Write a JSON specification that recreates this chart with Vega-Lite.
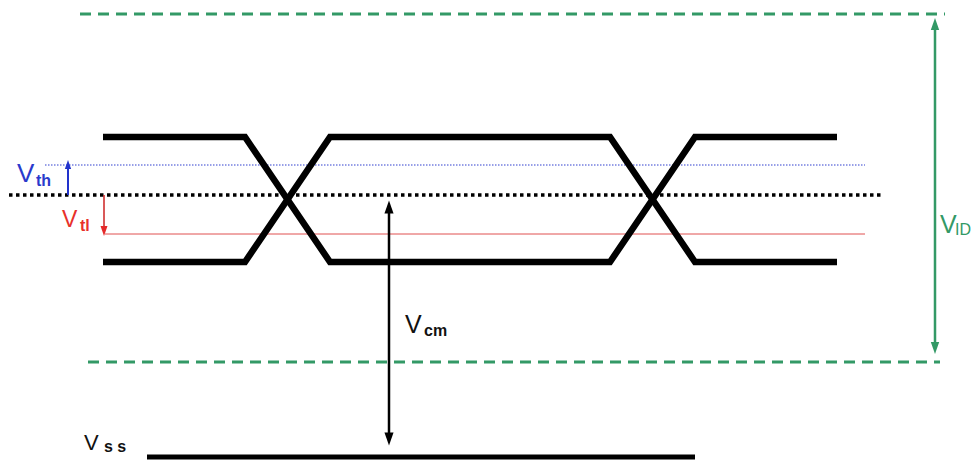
{
  "$schema": "https://vega.github.io/schema/vega-lite/v6.json",
  "width": 980,
  "height": 461,
  "autosize": {"type": "fit", "contains": "padding"},
  "padding": 0,
  "background": "white",
  "config": {"view": {"stroke": null}, "axis": null},
  "datasets": {
    "rules": [
      {"kind": "greendash", "x": 80, "x2": 945, "y": 14, "y2": 14},
      {"kind": "greendash", "x": 88, "x2": 940, "y": 362, "y2": 362},
      {"kind": "green", "x": 935, "x2": 935, "y": 26, "y2": 346},
      {"kind": "bluedot", "x": 45, "x2": 865, "y": 165, "y2": 165},
      {"kind": "red", "x": 105, "x2": 865, "y": 234, "y2": 234},
      {"kind": "blackdot", "x": 9, "x2": 884, "y": 195, "y2": 195},
      {"kind": "vcm", "x": 389, "x2": 389, "y": 208, "y2": 437},
      {"kind": "bluearrow", "x": 68, "x2": 68, "y": 195, "y2": 167},
      {"kind": "redarrow", "x": 104, "x2": 104, "y": 195, "y2": 228},
      {"kind": "vss", "x": 147, "x2": 695, "y": 457, "y2": 457}
    ],
    "eye": [
      {"path": "A", "i": 0, "x": 103, "y": 137},
      {"path": "A", "i": 1, "x": 245, "y": 137},
      {"path": "A", "i": 2, "x": 330, "y": 262},
      {"path": "A", "i": 3, "x": 610, "y": 262},
      {"path": "A", "i": 4, "x": 695, "y": 137},
      {"path": "A", "i": 5, "x": 837, "y": 137},
      {"path": "B", "i": 0, "x": 103, "y": 262},
      {"path": "B", "i": 1, "x": 245, "y": 262},
      {"path": "B", "i": 2, "x": 330, "y": 137},
      {"path": "B", "i": 3, "x": 610, "y": 137},
      {"path": "B", "i": 4, "x": 695, "y": 262},
      {"path": "B", "i": 5, "x": 837, "y": 262}
    ],
    "heads": [
      {"group": "green", "dir": "up", "x": 935, "y": 24},
      {"group": "green", "dir": "down", "x": 935, "y": 348},
      {"group": "black", "dir": "up", "x": 389, "y": 207},
      {"group": "black", "dir": "down", "x": 389, "y": 439},
      {"group": "blue", "dir": "up", "x": 68, "y": 164.5},
      {"group": "red", "dir": "down", "x": 104, "y": 231}
    ],
    "labels": [
      {"key": "th-main", "weight": "normal", "text": "V", "group": "blue", "x": 17, "y": 182},
      {"key": "th-sub", "weight": "bold", "text": "th", "group": "blue", "x": 36, "y": 186},
      {"key": "tl-main", "weight": "normal", "text": "V", "group": "red", "x": 62, "y": 227},
      {"key": "tl-sub", "weight": "bold", "text": "tl", "group": "red", "x": 80, "y": 231},
      {"key": "cm-main", "weight": "normal", "text": "V", "group": "black", "x": 405, "y": 333},
      {"key": "cm-sub", "weight": "bold", "text": "cm", "group": "black", "x": 424, "y": 336},
      {"key": "ss-main", "weight": "normal", "text": "V", "group": "black", "x": 84, "y": 450},
      {"key": "ss-sub", "weight": "bold", "text": "s s", "group": "black", "x": 104, "y": 452},
      {"key": "id-main", "weight": "normal", "text": "V", "group": "green", "x": 940, "y": 233},
      {"key": "id-sub", "weight": "normal", "text": "ID", "group": "green", "x": 955, "y": 235}
    ]
  },
  "resolve": {"scale": {"size": "independent", "color": "independent", "shape": "independent"}},
  "layer": [
    {
      "data": {"name": "rules"},
      "transform": [{"filter": "datum.kind === 'greendash'"}],
      "mark": {"type": "rule", "color": "#339966", "strokeWidth": 3, "strokeDash": [11, 7]},
      "encoding": {
        "x": {"field": "x", "type": "quantitative", "scale": {"domain": [0, 980], "nice": false, "zero": false}, "axis": null},
        "x2": {"field": "x2"},
        "y": {"field": "y", "type": "quantitative", "scale": {"domain": [0, 461], "nice": false, "zero": false, "reverse": true}, "axis": null},
        "y2": {"field": "y2"}
      }
    },
    {
      "data": {"name": "rules"},
      "transform": [{"filter": "datum.kind === 'green'"}],
      "mark": {"type": "rule", "color": "#339966", "strokeWidth": 2.5},
      "encoding": {
        "x": {"field": "x", "type": "quantitative", "scale": {"domain": [0, 980], "nice": false, "zero": false}, "axis": null},
        "x2": {"field": "x2"},
        "y": {"field": "y", "type": "quantitative", "scale": {"domain": [0, 461], "nice": false, "zero": false, "reverse": true}, "axis": null},
        "y2": {"field": "y2"}
      }
    },
    {
      "data": {"name": "rules"},
      "transform": [{"filter": "datum.kind === 'bluedot'"}],
      "mark": {"type": "rule", "color": "#3040d0", "strokeWidth": 1.2, "strokeDash": [1.5, 1.5]},
      "encoding": {
        "x": {"field": "x", "type": "quantitative", "scale": {"domain": [0, 980], "nice": false, "zero": false}, "axis": null},
        "x2": {"field": "x2"},
        "y": {"field": "y", "type": "quantitative", "scale": {"domain": [0, 461], "nice": false, "zero": false, "reverse": true}, "axis": null},
        "y2": {"field": "y2"}
      }
    },
    {
      "data": {"name": "rules"},
      "transform": [{"filter": "datum.kind === 'red'"}],
      "mark": {"type": "rule", "color": "#e05050", "strokeWidth": 1},
      "encoding": {
        "x": {"field": "x", "type": "quantitative", "scale": {"domain": [0, 980], "nice": false, "zero": false}, "axis": null},
        "x2": {"field": "x2"},
        "y": {"field": "y", "type": "quantitative", "scale": {"domain": [0, 461], "nice": false, "zero": false, "reverse": true}, "axis": null},
        "y2": {"field": "y2"}
      }
    },
    {
      "data": {"name": "rules"},
      "transform": [{"filter": "datum.kind === 'blackdot'"}],
      "mark": {"type": "rule", "color": "#000000", "strokeWidth": 3.5, "strokeDash": [3.5, 3.5]},
      "encoding": {
        "x": {"field": "x", "type": "quantitative", "scale": {"domain": [0, 980], "nice": false, "zero": false}, "axis": null},
        "x2": {"field": "x2"},
        "y": {"field": "y", "type": "quantitative", "scale": {"domain": [0, 461], "nice": false, "zero": false, "reverse": true}, "axis": null},
        "y2": {"field": "y2"}
      }
    },
    {
      "data": {"name": "rules"},
      "transform": [{"filter": "datum.kind === 'vcm'"}],
      "mark": {"type": "rule", "color": "#000000", "strokeWidth": 2.5},
      "encoding": {
        "x": {"field": "x", "type": "quantitative", "scale": {"domain": [0, 980], "nice": false, "zero": false}, "axis": null},
        "x2": {"field": "x2"},
        "y": {"field": "y", "type": "quantitative", "scale": {"domain": [0, 461], "nice": false, "zero": false, "reverse": true}, "axis": null},
        "y2": {"field": "y2"}
      }
    },
    {
      "data": {"name": "rules"},
      "transform": [{"filter": "datum.kind === 'bluearrow'"}],
      "mark": {"type": "rule", "color": "#2233cc", "strokeWidth": 2},
      "encoding": {
        "x": {"field": "x", "type": "quantitative", "scale": {"domain": [0, 980], "nice": false, "zero": false}, "axis": null},
        "x2": {"field": "x2"},
        "y": {"field": "y", "type": "quantitative", "scale": {"domain": [0, 461], "nice": false, "zero": false, "reverse": true}, "axis": null},
        "y2": {"field": "y2"}
      }
    },
    {
      "data": {"name": "rules"},
      "transform": [{"filter": "datum.kind === 'redarrow'"}],
      "mark": {"type": "rule", "color": "#cc2222", "strokeWidth": 1.5},
      "encoding": {
        "x": {"field": "x", "type": "quantitative", "scale": {"domain": [0, 980], "nice": false, "zero": false}, "axis": null},
        "x2": {"field": "x2"},
        "y": {"field": "y", "type": "quantitative", "scale": {"domain": [0, 461], "nice": false, "zero": false, "reverse": true}, "axis": null},
        "y2": {"field": "y2"}
      }
    },
    {
      "data": {"name": "rules"},
      "transform": [{"filter": "datum.kind === 'vss'"}],
      "mark": {"type": "rule", "color": "#000000", "strokeWidth": 5},
      "encoding": {
        "x": {"field": "x", "type": "quantitative", "scale": {"domain": [0, 980], "nice": false, "zero": false}, "axis": null},
        "x2": {"field": "x2"},
        "y": {"field": "y", "type": "quantitative", "scale": {"domain": [0, 461], "nice": false, "zero": false, "reverse": true}, "axis": null},
        "y2": {"field": "y2"}
      }
    },
    {
      "data": {"name": "eye"},
      "mark": {"type": "line", "color": "#000000", "strokeWidth": 6.5, "strokeJoin": "miter", "strokeCap": "butt"},
      "encoding": {
        "x": {"field": "x", "type": "quantitative", "scale": {"domain": [0, 980], "nice": false, "zero": false}, "axis": null},
        "y": {"field": "y", "type": "quantitative", "scale": {"domain": [0, 461], "nice": false, "zero": false, "reverse": true}, "axis": null},
        "detail": {"field": "path", "type": "nominal"},
        "order": {"field": "i", "type": "quantitative"}
      }
    },
    {
      "data": {"name": "heads"},
      "mark": {"type": "point", "filled": true, "opacity": 1, "strokeWidth": 0},
      "encoding": {
        "x": {"field": "x", "type": "quantitative", "scale": {"domain": [0, 980], "nice": false, "zero": false}, "axis": null},
        "y": {"field": "y", "type": "quantitative", "scale": {"domain": [0, 461], "nice": false, "zero": false, "reverse": true}, "axis": null},
        "shape": {"field": "dir", "type": "nominal", "scale": {"domain": ["up", "down"], "range": ["M0,-1L0.7,1L-0.7,1Z", "M0,1L0.7,-1L-0.7,-1Z"]}, "legend": null},
        "color": {"field": "group", "type": "nominal", "scale": {"domain": ["green", "black", "blue", "red"], "range": ["#339966", "#000000", "#2233cc", "#e52a2a"]}, "legend": null},
        "size": {"field": "group", "type": "nominal", "scale": {"type": "ordinal", "domain": ["green", "black", "blue", "red"], "range": [144, 169, 81, 100]}, "legend": null}
      }
    },
    {
      "data": {"name": "labels"},
      "transform": [{"filter": "datum.weight === 'normal'"}],
      "mark": {"type": "text", "align": "left", "baseline": "alphabetic", "font": "Liberation Sans"},
      "encoding": {
        "x": {"field": "x", "type": "quantitative", "scale": {"domain": [0, 980], "nice": false, "zero": false}, "axis": null},
        "y": {"field": "y", "type": "quantitative", "scale": {"domain": [0, 461], "nice": false, "zero": false, "reverse": true}, "axis": null},
        "text": {"field": "text"},
        "color": {"field": "group", "type": "nominal", "scale": {"domain": ["green", "black", "blue", "red"], "range": ["#339966", "#111111", "#2a3acc", "#e8302a"]}, "legend": null},
        "size": {"field": "key", "type": "nominal", "scale": {"type": "ordinal", "domain": ["th-main", "tl-main", "cm-main", "ss-main", "id-main", "id-sub"], "range": [26, 23, 25, 22, 25, 16]}, "legend": null}
      }
    },
    {
      "data": {"name": "labels"},
      "transform": [{"filter": "datum.weight === 'bold'"}],
      "mark": {"type": "text", "align": "left", "baseline": "alphabetic", "font": "Liberation Sans", "fontWeight": "bold"},
      "encoding": {
        "x": {"field": "x", "type": "quantitative", "scale": {"domain": [0, 980], "nice": false, "zero": false}, "axis": null},
        "y": {"field": "y", "type": "quantitative", "scale": {"domain": [0, 461], "nice": false, "zero": false, "reverse": true}, "axis": null},
        "text": {"field": "text"},
        "color": {"field": "group", "type": "nominal", "scale": {"domain": ["green", "black", "blue", "red"], "range": ["#339966", "#111111", "#2a3acc", "#e8302a"]}, "legend": null},
        "size": {"field": "key", "type": "nominal", "scale": {"type": "ordinal", "domain": ["th-sub", "tl-sub", "cm-sub", "ss-sub"], "range": [16, 16, 16, 16]}, "legend": null}
      }
    }
  ]
}
